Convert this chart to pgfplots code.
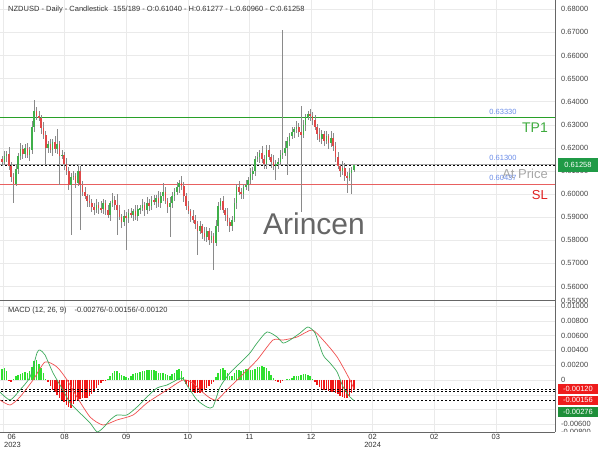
\documentclass[border=0pt]{standalone}
\usepackage{fontspec}
\setmainfont{Liberation Sans}
\usepackage{pgfplots}
\usepackage{pgfplotstable}
\pgfplotsset{compat=1.18}

\definecolor{upc}{HTML}{3FAF4A}
\definecolor{dnc}{HTML}{E04848}
\definecolor{wick}{HTML}{8A8A8A}
\definecolor{gridc}{HTML}{EAEAEA}
\definecolor{axc}{HTML}{666666}
\definecolor{tickc}{HTML}{444444}
\definecolor{tpc}{HTML}{3DAA3D}
\definecolor{tpline}{RGB}{40,160,40}
\definecolor{slc}{HTML}{E86060}
\definecolor{slt}{HTML}{E02020}
\definecolor{bluel}{HTML}{6A8CE8}
\definecolor{hup}{HTML}{2EE02E}
\definecolor{hdn}{HTML}{F01818}
\definecolor{macdc}{HTML}{3DAA5C}
\definecolor{sigc}{HTML}{F05050}
\definecolor{boxg}{HTML}{1F9A46}
\definecolor{boxr}{HTML}{EE1C1C}
\definecolor{boxg2}{HTML}{1E8F3A}

\pgfplotstableread{
i o h l c
0 0.6150 0.6165 0.6120 0.6140
1 0.6140 0.6187 0.6128 0.6165
2 0.6165 0.6187 0.6140 0.6175
3 0.6175 0.6203 0.6104 0.6120
4 0.6120 0.6138 0.6053 0.6075
5 0.6075 0.6090 0.5960 0.6045
6 0.6045 0.6132 0.6033 0.6110
7 0.6110 0.6177 0.6085 0.6165
8 0.6165 0.6223 0.6149 0.6195
9 0.6195 0.6213 0.6153 0.6175
10 0.6175 0.6215 0.6155 0.6200
11 0.6200 0.6222 0.6158 0.6170
12 0.6170 0.6202 0.6145 0.6190
13 0.6190 0.6318 0.6174 0.6290
14 0.6290 0.6407 0.6268 0.6360
15 0.6360 0.6375 0.6320 0.6340
16 0.6340 0.6362 0.6318 0.6330
17 0.6330 0.6342 0.6260 0.6285
18 0.6285 0.6313 0.6239 0.6255
19 0.6255 0.6273 0.6126 0.6200
20 0.6200 0.6230 0.6180 0.6215
21 0.6215 0.6237 0.6178 0.6190
22 0.6190 0.6237 0.6165 0.6225
23 0.6225 0.6253 0.6179 0.6195
24 0.6195 0.6280 0.6173 0.6215
25 0.6215 0.6230 0.6040 0.6165
26 0.6165 0.6192 0.6153 0.6170
27 0.6170 0.6182 0.6105 0.6130
28 0.6130 0.6158 0.6084 0.6100
29 0.6100 0.6118 0.6018 0.6040
30 0.6040 0.6090 0.5823 0.6075
31 0.6075 0.6102 0.6063 0.6080
32 0.6080 0.6092 0.6025 0.6050
33 0.6050 0.6128 0.6034 0.6100
34 0.6100 0.6120 0.5844 0.6040
35 0.6040 0.6055 0.5990 0.6010
36 0.6010 0.6032 0.5978 0.5990
37 0.5990 0.6002 0.5945 0.5970
38 0.5970 0.5998 0.5944 0.5960
39 0.5960 0.5978 0.5923 0.5945
40 0.5945 0.5960 0.5910 0.5930
41 0.5930 0.5977 0.5918 0.5955
42 0.5955 0.5967 0.5915 0.5940
43 0.5940 0.5968 0.5919 0.5935
44 0.5935 0.5978 0.5913 0.5960
45 0.5960 0.5975 0.5910 0.5930
46 0.5930 0.5952 0.5898 0.5910
47 0.5910 0.5972 0.5885 0.5960
48 0.5960 0.6003 0.5944 0.5975
49 0.5975 0.5993 0.5933 0.5955
50 0.5955 0.6000 0.5823 0.5930
51 0.5930 0.5952 0.5888 0.5900
52 0.5900 0.5912 0.5855 0.5880
53 0.5880 0.5933 0.5864 0.5905
54 0.5905 0.5923 0.5758 0.5895
55 0.5895 0.5935 0.5875 0.5920
56 0.5920 0.5942 0.5898 0.5910
57 0.5910 0.5937 0.5885 0.5925
58 0.5925 0.5953 0.5889 0.5905
59 0.5905 0.5953 0.5883 0.5935
60 0.5935 0.5955 0.5915 0.5940
61 0.5940 0.5977 0.5928 0.5955
62 0.5955 0.5967 0.5905 0.5930
63 0.5930 0.5988 0.5914 0.5960
64 0.5960 0.5978 0.5928 0.5950
65 0.5950 0.5990 0.5930 0.5975
66 0.5975 0.5997 0.5953 0.5965
67 0.5965 0.5997 0.5940 0.5985
68 0.5985 0.6013 0.5944 0.5960
69 0.5960 0.6008 0.5938 0.5990
70 0.5990 0.6048 0.5970 0.6010
71 0.6010 0.6032 0.5958 0.5970
72 0.5970 0.5982 0.5920 0.5945
73 0.5945 0.5988 0.5815 0.5960
74 0.5960 0.6008 0.5938 0.5990
75 0.5990 0.6025 0.5970 0.6010
76 0.6010 0.6052 0.5998 0.6030
77 0.6030 0.6062 0.6005 0.6050
78 0.6050 0.6078 0.6019 0.6035
79 0.6035 0.6053 0.5968 0.5990
80 0.5990 0.6005 0.5930 0.5950
81 0.5950 0.5972 0.5913 0.5925
82 0.5925 0.5937 0.5880 0.5905
83 0.5905 0.5933 0.5874 0.5890
84 0.5890 0.5908 0.5848 0.5870
85 0.5870 0.5885 0.5736 0.5840
86 0.5840 0.5882 0.5828 0.5860
87 0.5860 0.5872 0.5805 0.5830
88 0.5830 0.5858 0.5799 0.5815
89 0.5815 0.5858 0.5793 0.5840
90 0.5840 0.5855 0.5780 0.5800
91 0.5800 0.5842 0.5788 0.5820
92 0.5820 0.5832 0.5671 0.5790
93 0.5790 0.5888 0.5774 0.5860
94 0.5860 0.5968 0.5838 0.5950
95 0.5950 0.5985 0.5930 0.5970
96 0.5970 0.5992 0.5918 0.5930
97 0.5930 0.5942 0.5885 0.5910
98 0.5910 0.5938 0.5864 0.5880
99 0.5880 0.5898 0.5838 0.5860
100 0.5860 0.5905 0.5840 0.5890
101 0.5890 0.5982 0.5878 0.5960
102 0.5960 0.6042 0.5935 0.6030
103 0.6030 0.6058 0.5994 0.6010
104 0.6010 0.6028 0.5978 0.6000
105 0.6000 0.6045 0.5980 0.6030
106 0.6030 0.6062 0.6018 0.6040
107 0.6040 0.6072 0.6015 0.6060
108 0.6060 0.6113 0.6044 0.6085
109 0.6085 0.6118 0.6063 0.6100
110 0.6100 0.6165 0.6080 0.6150
111 0.6150 0.6182 0.6138 0.6160
112 0.6160 0.6192 0.6135 0.6180
113 0.6180 0.6208 0.6134 0.6150
114 0.6150 0.6168 0.6108 0.6130
115 0.6130 0.6213 0.6110 0.6190
116 0.6190 0.6212 0.6148 0.6160
117 0.6160 0.6172 0.6115 0.6140
118 0.6140 0.6168 0.6104 0.6120
119 0.6120 0.6148 0.6060 0.6130
120 0.6130 0.6155 0.6110 0.6140
121 0.6140 0.6192 0.6128 0.6170
122 0.6170 0.6710 0.6150 0.6180
123 0.6180 0.6228 0.6164 0.6200
124 0.6200 0.6248 0.6083 0.6230
125 0.6230 0.6265 0.6210 0.6250
126 0.6250 0.6292 0.6238 0.6270
127 0.6270 0.6292 0.6245 0.6280
128 0.6280 0.6318 0.6264 0.6290
129 0.6290 0.6308 0.6248 0.6270
130 0.6270 0.6380 0.5924 0.6255
131 0.6255 0.6322 0.6243 0.6300
132 0.6300 0.6347 0.6275 0.6335
133 0.6335 0.6360 0.6319 0.6345
134 0.6345 0.6368 0.6318 0.6340
135 0.6340 0.6355 0.6300 0.6320
136 0.6320 0.6342 0.6278 0.6290
137 0.6290 0.6302 0.6235 0.6260
138 0.6260 0.6288 0.6224 0.6240
139 0.6240 0.6278 0.6218 0.6260
140 0.6260 0.6275 0.6210 0.6230
141 0.6230 0.6272 0.6218 0.6250
142 0.6250 0.6262 0.6195 0.6220
143 0.6220 0.6273 0.6204 0.6245
144 0.6245 0.6263 0.6188 0.6210
145 0.6210 0.6225 0.6140 0.6160
146 0.6160 0.6182 0.6108 0.6120
147 0.6120 0.6132 0.6075 0.6100
148 0.6100 0.6143 0.6084 0.6115
149 0.6115 0.6133 0.6058 0.6080
150 0.6080 0.6095 0.6005 0.6070
151 0.6070 0.6112 0.6058 0.6090
152 0.6090 0.6116 0.6000 0.6104
153 0.6104 0.61277 0.6096 0.61258
}\candles

\pgfplotstableread{
i v
0 0.0015
1 0.0016
2 0.0012
3 -0.0001
4 -0.0003
5 0.0001
6 0.0005
7 0.0007
8 0.0008
9 0.0010
10 0.0011
11 0.0010
12 0.0012
13 0.0018
14 0.0026
15 0.0027
16 0.0022
17 0.0016
18 0.0009
19 0.0002
20 -0.0003
21 -0.0008
22 -0.0013
23 -0.0016
24 -0.0020
25 -0.0024
26 -0.0027
27 -0.0030
28 -0.0034
29 -0.0036
30 -0.0038
31 -0.0032
32 -0.0029
33 -0.0027
34 -0.0026
35 -0.0025
36 -0.0025
37 -0.0024
38 -0.0022
39 -0.0019
40 -0.0015
41 -0.0011
42 -0.0007
43 -0.0004
44 -0.0002
45 -0.0001
46 0.0002
47 0.0006
48 0.0010
49 0.0012
50 0.0012
51 0.0010
52 0.0007
53 0.0005
54 0.0004
55 0.0003
56 0.0005
57 0.0008
58 0.0009
59 0.0010
60 0.0011
61 0.0012
62 0.0012
63 0.0013
64 0.0013
65 0.0014
66 0.0013
67 0.0012
68 0.0010
69 0.0009
70 0.0010
71 0.0008
72 0.0007
73 0.0006
74 0.0008
75 0.0010
76 0.0013
77 0.0015
78 0.0012
79 0.0004
80 -0.0005
81 -0.0010
82 -0.0014
83 -0.0016
84 -0.0017
85 -0.0018
86 -0.0017
87 -0.0015
88 -0.0013
89 -0.0011
90 -0.0008
91 -0.0005
92 -0.0003
93 0.0004
94 0.0010
95 0.0015
96 0.0016
97 0.0014
98 0.0010
99 0.0006
100 0.0005
101 0.0009
102 0.0013
103 0.0014
104 0.0012
105 0.0014
106 0.0015
107 0.0015
108 0.0014
109 0.0013
110 0.0015
111 0.0017
112 0.0018
113 0.0019
114 0.0018
115 0.0016
116 0.0012
117 0.0007
118 0.0003
119 -0.0001
120 -0.0003
121 -0.0004
122 -0.0002
123 0.0000
124 0.0001
125 0.0002
126 0.0003
127 0.0005
128 0.0006
129 0.0006
130 0.0007
131 0.0008
132 0.0008
133 0.0007
134 0.0005
135 0.0002
136 -0.0003
137 -0.0007
138 -0.0010
139 -0.0012
140 -0.0013
141 -0.0014
142 -0.0015
143 -0.0016
144 -0.0016
145 -0.0017
146 -0.0019
147 -0.0021
148 -0.0023
149 -0.0024
150 -0.0025
151 -0.0022
152 -0.0017
153 -0.0012
}\hist

\pgfplotsset{
  panel/.style={
    scale only axis, width=555pt,
    xmin=-0.8696, xmax=240.43,
    axis line style={draw=none},
    major tick length=0pt, tick style={draw=none},
    grid=major, grid style={gridc, line width=0.5pt},
    xtick={0.43,27.2,54.0,80.8,107.6,134.3,161.1,187.9,214.7},
    xticklabels={},
    yticklabel pos=right,
    scaled y ticks=false,
    yticklabel style={anchor=west, xshift=2.6pt, font=\fontsize{7.5}{9}\selectfont, text=tickc},
    /pgf/number format/assume math mode=true,
    clip=true,
  }
}

\newcommand{\sm}{\fontsize{7.5}{9}\selectfont}

\begin{document}
\begin{tikzpicture}
\useasboundingbox (0pt,0pt) rectangle (600pt,450pt);

% ---------------- price panel ----------------
\begin{axis}[panel, at={(0pt,150pt)}, anchor=south west, height=300pt,
  ymin=0.55416, ymax=0.68403,
  ytick={0.56,0.57,0.58,0.59,0.60,0.61,0.62,0.63,0.64,0.65,0.66,0.67,0.68},
  yticklabel style={/pgf/number format/.cd, fixed, fixed zerofill, precision=5},
]
% reference lines
\addplot[draw=tpline, line width=1pt, forget plot] coordinates {(-2,0.6333) (242,0.6333)};
\addplot[draw=slc, line width=0.8pt, forget plot] coordinates {(-2,0.60437) (242,0.60437)};
\addplot[draw=gray!70, line width=0.7pt, forget plot] coordinates {(-2,0.6130) (242,0.6130)};
\addplot[draw=black, line width=0.6pt, dash pattern=on 2pt off 2pt, forget plot] coordinates {(-2,0.61258) (242,0.61258)};
% wicks
\addplot[draw=none, mark=none, forget plot,
  error bars/.cd, y dir=both, y explicit, error mark=none,
  error bar style={draw=wick, line width=0.6pt}]
  table[x=i, y expr={(\thisrow{h}+\thisrow{l})/2}, y error expr={(\thisrow{h}-\thisrow{l})/2}] {\candles};
% up bodies
\addplot[draw=none, mark=none, forget plot,
  error bars/.cd, y dir=both, y explicit, error mark=none,
  error bar style={draw=upc, line width=1.6pt}]
  table[x expr={\thisrow{c}>=\thisrow{o} ? \thisrow{i} : -100},
        y expr={(\thisrow{o}+\thisrow{c})/2},
        y error expr={max(abs(\thisrow{c}-\thisrow{o})/2,0.00005)}] {\candles};
% down bodies
\addplot[draw=none, mark=none, forget plot,
  error bars/.cd, y dir=both, y explicit, error mark=none,
  error bar style={draw=dnc, line width=1.6pt}]
  table[x expr={\thisrow{c}<\thisrow{o} ? \thisrow{i} : -100},
        y expr={(\thisrow{o}+\thisrow{c})/2},
        y error expr={max(abs(\thisrow{c}-\thisrow{o})/2,0.00005)}] {\candles};
\end{axis}

% ---------------- MACD panel ----------------
\begin{axis}[panel, at={(0pt,18pt)}, anchor=south west, height=132pt,
  ymin=-0.007027, ymax=0.010811,
  ytick={-0.006,-0.004,-0.002,0,0.002,0.004,0.006,0.008,0.01},
  yticklabels={-0.00600,{},{},0,0.00200,0.00400,0.00600,0.00800,0.01000},
]
\addplot[ycomb, hup, line width=1.5pt, restrict y to domain=0:1, forget plot] table[x=i, y=v] {\hist};
\addplot[ycomb, hdn, line width=1.5pt, restrict y to domain=-1:0, forget plot] table[x=i, y=v] {\hist};
\addplot[black, line width=0.6pt, dash pattern=on 2pt off 2pt, forget plot] coordinates {(-2,-0.00120) (242,-0.00120)};
\addplot[black, line width=0.6pt, dash pattern=on 2pt off 2pt, forget plot] coordinates {(-2,-0.00156) (242,-0.00156)};
\addplot[black, line width=0.6pt, dash pattern=on 2pt off 2pt, forget plot] coordinates {(-2,-0.00276) (242,-0.00276)};
% signal
\addplot[sigc, line width=0.7pt, smooth, tension=0.4] coordinates {
(-0.9,-0.0027) (3.5,-0.00338) (7.8,-0.0023) (13.5,0) (18.7,0.00243) (23.9,0.00176)
(28.3,0) (32.6,-0.0023) (38.3,-0.005) (43.9,-0.00608) (50,-0.0054) (57,-0.00473)
(63,-0.00311) (71.7,-0.00135) (78.7,0) (83,-0.0004) (86.1,-0.00135) (90.4,-0.00243)
(93.5,-0.0027) (97.8,-0.00135) (103.5,0.0004) (110.9,0.0027) (117.8,0.0054) (122.2,0.0054)
(128.3,0.00581) (134.8,0.00676) (139.6,0.0054) (145.7,0.00311) (151.3,0.0000) (153.2,-0.00135)};
% macd
\addplot[macdc, line width=0.7pt, smooth, tension=0.4] coordinates {
(-0.9,-0.00162) (3.5,-0.0027) (7.8,-0.00135) (12.2,0.0004) (15.2,0.00365) (16.5,0.00405)
(18.7,0.00338) (22.2,0.00095) (26.5,-0.00135) (29.6,-0.0031) (33.9,-0.00446) (38.3,-0.00581)
(41.3,-0.0070) (43.9,-0.00649) (47,-0.0054) (50,-0.00473) (54.3,-0.00473) (58.7,-0.00365)
(63,-0.0023) (67.4,-0.00108) (71.7,-0.00068) (74.3,-0.00027) (78.3,0.00027) (80.9,-0.00095)
(84.8,-0.0027) (89.1,-0.00365) (91.7,-0.00365) (94.8,-0.00095) (99.1,0.00095) (103.5,0.0023)
(107.8,0.00365) (110.9,0.005) (115.2,0.00649) (119.6,0.00581) (122.2,0.005) (125.2,0.0054)
(129.6,0.00635) (133,0.00716) (136.1,0.00635) (139.6,0.00338) (142.6,0.0023) (145.7,0.00108)
(148.3,-0.00095) (151.3,-0.0023) (153,-0.00276)};
\end{axis}

% ---------------- frame lines ----------------
\draw[axc, line width=0.8pt] (555pt,450pt) -- (555pt,18pt);
\draw[axc, line width=0.8pt] (0pt,150pt) -- (555pt,150pt);
\draw[axc, line width=0.8pt] (0pt,18pt) -- (555pt,18pt);

% ---------------- texts ----------------
\node[anchor=west, inner sep=0pt, text=black!80, font=\sm] at (8pt,440pt)
  {NZDUSD - Daily - Candlestick\hspace{5pt}155/189 - O:0.61040 - H:0.61277 - L:0.60960 - C:0.61258};
\node[anchor=west, inner sep=0pt, text=black!80, font=\sm] at (8pt,139pt)
  {MACD (12, 26, 9)\hspace{8pt}-0.00276/-0.00156/-0.00120};

\node[text=black!60, font=\fontsize{30}{32}\selectfont, inner sep=0pt] at (314pt,226pt) {Arincen};

\node[anchor=center, inner sep=0pt, text=bluel, font=\sm] at (503pt,338.3pt) {0.63330};
\node[anchor=center, inner sep=0pt, text=bluel, font=\sm] at (503pt,292pt) {0.61300};
\node[anchor=east, inner sep=0pt, text=tpc, font=\fontsize{14}{16}\selectfont] at (548pt,322pt) {TP1};
\node[anchor=east, inner sep=0pt, text=black!35, font=\fontsize{13}{15}\selectfont] at (548pt,276pt) {At Price};
\node[anchor=center, inner sep=0pt, text=bluel, font=\sm] at (503pt,272pt) {0.60437};
\node[anchor=east, inner sep=0pt, text=slt, font=\fontsize{13}{15}\selectfont] at (548pt,255pt) {SL};

% price boxes
\fill[boxg] (558pt,278pt) rectangle (598pt,292pt);
\node[text=white, font=\sm, inner sep=0pt] at (578pt,285pt) {0.61258};
\node[anchor=west, inner sep=0pt, text=tickc, font=\sm] at (561pt,149.5pt) {0.55000};

\fill[boxr] (558pt,56pt) rectangle (598pt,65.7pt);
\node[text=white, font=\sm, inner sep=0pt] at (578pt,60.9pt) {-0.00120};
\fill[boxr] (558pt,45pt) rectangle (598pt,54.3pt);
\node[text=white, font=\sm, inner sep=0pt] at (578pt,49.7pt) {-0.00156};
\fill[boxg2] (558pt,33pt) rectangle (598pt,43.3pt);
\node[text=white, font=\sm, inner sep=0pt] at (578pt,38.2pt) {-0.00276};
\begin{scope}
\clip (556pt,18pt) rectangle (600pt,30pt);
\node[anchor=west, inner sep=0pt, text=tickc, font=\sm] at (561pt,18pt) {-0.00800};
\end{scope}

% month labels
\foreach \xx/\lab in {11.7/06,64.6/08,126.2/09,187.8/10,249.4/11,311.0/12,372.6/02,434.2/02,495.8/03}{
  \node[text=black!80, font=\sm, inner sep=0pt] at (\xx pt,13pt) {\lab};
}
\node[text=black!80, font=\sm, inner sep=0pt] at (12.5pt,5.5pt) {2023};
\node[text=black!80, font=\sm, inner sep=0pt] at (372.6pt,5.5pt) {2024};
\end{tikzpicture}
\end{document}
